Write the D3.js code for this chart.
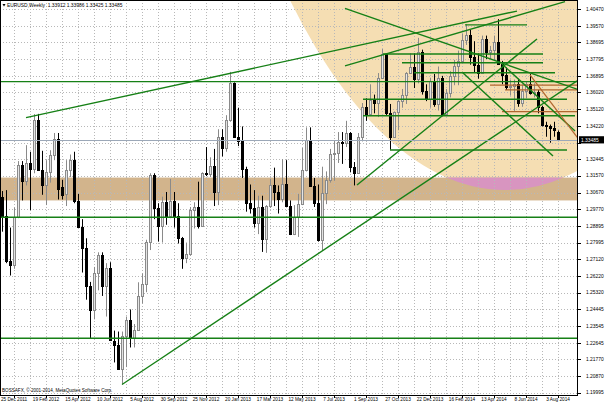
<!DOCTYPE html>
<html><head><meta charset="utf-8">
<script src="https://cdn.jsdelivr.net/npm/d3@7"></script>
<style>
body{margin:0;background:#fff;}
svg{display:block;}
text{font-family:"Liberation Sans",Arial,sans-serif;}
</style>
</head><body>
<svg id="chart" width="605" height="403"></svg>
<script>
// ---------- data ----------
const symbolTitle = "EURUSD,Weekly  1.33912 1.33986 1.33425 1.33485";
const copyright = "BOSSAFX, \u00A9 2001-2014, MetaQuotes Software Corp.";
const timeLabels = ["25 Dec 2011","19 Feb 2012","15 Apr 2012","10 Jun 2012","5 Aug 2012","30 Sep 2012","25 Nov 2012","20 Jan 2013","17 Mar 2013","12 May 2013","7 Jul 2013","1 Sep 2013","27 Oct 2013","22 Dec 2013","16 Feb 2014","13 Apr 2014","8 Jun 2014","3 Aug 2014"];
const priceTicks = [1.40470,1.39570,1.38695,1.37795,1.36895,1.36020,1.35120,1.34220,1.33320,1.32445,1.31570,1.30670,1.29770,1.28895,1.27995,1.27120,1.26220,1.25320,1.24445,1.23545,1.22645,1.21770,1.20870,1.19995];
const barOpen = [1.3045,1.2940,1.2700,1.2680,1.2935,1.3215,1.3130,1.3225,1.3195,1.3455,
1.3190,1.3110,1.3175,1.3265,1.3355,1.3095,1.3060,1.3190,1.3240,1.3020,
1.2885,1.2770,1.2570,1.2440,1.2640,1.2735,1.2570,1.2665,1.2275,1.2255,
1.2125,1.2300,1.2385,1.2290,1.2335,1.2515,1.2580,1.2805,1.3160,1.2985,
1.2890,1.3015,1.2940,1.3020,1.2940,1.2825,1.2715,1.2740,1.2975,1.2990,
1.2890,1.3170,1.3165,1.3210,1.3070,1.3365,1.3305,1.3455,1.3650,1.3365,
1.3340,1.3195,1.3010,1.2985,1.2905,1.2990,1.2820,1.2995,1.3105,1.3070,
1.3030,1.3115,1.2995,1.2845,1.2935,1.3005,1.3190,1.3345,1.3100,1.3010,
1.2815,1.3065,1.3135,1.3275,1.3280,1.3335,1.3330,1.3385,1.3205,1.3170,
1.3365,1.3525,1.3485,1.3560,1.3545,1.3680,1.3805,1.3490,1.3365,1.3495,
1.3555,1.3590,1.3705,1.3740,1.3675,1.3815,1.3610,1.3565,1.3665,1.3540,
1.3680,1.3485,1.3600,1.3690,1.3745,1.3770,1.3880,1.3910,1.3790,1.3750,
1.3705,1.3885,1.3815,1.3830,1.3870,1.3755,1.3695,1.3630,1.3635,1.3645,
1.3545,1.3610,1.3645,1.3600,1.3605,1.3525,1.3430,1.3425,1.3410,1.33912];
const barHigh = [1.3075,1.3080,1.2880,1.2987,1.3235,1.3235,1.3320,1.3285,1.3486,1.3487,
1.3290,1.3240,1.3293,1.3385,1.3385,1.3135,1.3240,1.3270,1.3285,1.3060,
1.2925,1.2823,1.2590,1.2670,1.2748,1.2748,1.2690,1.2695,1.2330,1.2325,
1.2325,1.2405,1.2443,1.2365,1.2588,1.2635,1.2815,1.3170,1.3170,1.3010,
1.3045,1.3070,1.3140,1.3070,1.3010,1.2830,1.2800,1.2990,1.3015,1.3125,
1.3175,1.3310,1.3255,1.3300,1.3405,1.3405,1.3480,1.3711,1.3655,1.3520,
1.3420,1.3205,1.3110,1.3080,1.3050,1.3050,1.3000,1.3140,1.3200,1.3105,
1.3245,1.3240,1.3025,1.3000,1.3060,1.3305,1.3415,1.3415,1.3145,1.3110,
1.3205,1.3180,1.3300,1.3345,1.3390,1.3390,1.3450,1.3390,1.3230,1.3385,
1.3545,1.3570,1.3645,1.3590,1.3705,1.3833,1.3810,1.3540,1.3500,1.3560,
1.3620,1.3710,1.3810,1.3810,1.3893,1.3830,1.3645,1.3680,1.3700,1.3740,
1.3690,1.3620,1.3715,1.3775,1.3825,1.3915,1.3967,1.3935,1.3875,1.3810,
1.3905,1.3905,1.3850,1.3905,1.3993,1.3770,1.3735,1.3670,1.3670,1.3675,
1.3645,1.3660,1.3700,1.3650,1.3615,1.3530,1.3445,1.3430,1.3445,1.33986];
const barLow = [1.2858,1.2690,1.2624,1.2660,1.2930,1.3025,1.3105,1.2973,1.3170,1.3185,
1.3055,1.3000,1.3120,1.3240,1.3030,1.3030,1.2995,1.3150,1.3010,1.2880,
1.2640,1.2495,1.2288,1.2390,1.2545,1.2515,1.2405,1.2275,1.2160,1.2120,
1.2042,1.2135,1.2240,1.2240,1.2330,1.2475,1.2535,1.2760,1.2925,1.2805,
1.2800,1.2895,1.2930,1.2880,1.2795,1.2660,1.2690,1.2730,1.2875,1.2875,
1.2885,1.3155,1.3150,1.2995,1.3000,1.3260,1.3285,1.3445,1.3375,1.3315,
1.3145,1.2965,1.2955,1.2880,1.2845,1.2750,1.2745,1.2985,1.2995,1.2955,
1.3015,1.2995,1.2840,1.2840,1.2830,1.3000,1.3180,1.3105,1.2990,1.2805,
1.2755,1.3005,1.3120,1.3130,1.3225,1.3220,1.3310,1.3175,1.3105,1.3170,
1.3340,1.3450,1.3475,1.3490,1.3470,1.3675,1.3480,1.3296,1.3365,1.3400,
1.3520,1.3540,1.3700,1.3625,1.3650,1.3590,1.3555,1.3520,1.3525,1.3505,
1.3475,1.3475,1.3575,1.3640,1.3640,1.3760,1.3855,1.3750,1.3705,1.3675,
1.3700,1.3780,1.3780,1.3770,1.3835,1.3645,1.3615,1.3585,1.3503,1.3525,
1.3525,1.3570,1.3590,1.3575,1.3490,1.3420,1.3365,1.3333,1.3365,1.33425];
const barClose = [1.2940,1.2700,1.2680,1.2935,1.3215,1.3130,1.3225,1.3195,1.3455,1.3190,
1.3110,1.3175,1.3265,1.3355,1.3085,1.3055,1.3190,1.3240,1.3020,1.2885,
1.2770,1.2570,1.2440,1.2640,1.2735,1.2570,1.2665,1.2280,1.2255,1.2125,
1.2300,1.2385,1.2290,1.2335,1.2515,1.2580,1.2805,1.3160,1.2985,1.2890,
1.3015,1.2940,1.3020,1.2940,1.2825,1.2715,1.2740,1.2975,1.2990,1.2890,
1.3170,1.3165,1.3210,1.3070,1.3365,1.3305,1.3455,1.3650,1.3365,1.3340,
1.3195,1.3010,1.2985,1.2905,1.2990,1.2820,1.2995,1.3105,1.3070,1.3030,
1.3115,1.2995,1.2845,1.2935,1.3005,1.3190,1.3345,1.3100,1.3010,1.2815,
1.3065,1.3135,1.3275,1.3280,1.3335,1.3330,1.3385,1.3205,1.3170,1.3365,
1.3525,1.3485,1.3560,1.3545,1.3680,1.3805,1.3490,1.3365,1.3495,1.3555,
1.3590,1.3705,1.3740,1.3675,1.3815,1.3610,1.3565,1.3665,1.3540,1.3680,
1.3485,1.3600,1.3690,1.3745,1.3770,1.3880,1.3910,1.3790,1.3750,1.3705,
1.3885,1.3815,1.3830,1.3870,1.3755,1.3695,1.3630,1.3635,1.3645,1.3545,
1.3610,1.3645,1.3600,1.3605,1.3525,1.3430,1.3425,1.3410,1.3400,1.33485];
const bidPrice = 1.33485;
// annotation objects, in (bar index, price) coordinates
const zonePrices = [1.3147, 1.3025];
const ellipseCenter = [125.75, 1.7608];
const ellipseRadius = [85.25, 0.4528];
const fullHLines = [1.3659, 1.2935, 1.2289];
const greenHSegments = [[115.75,131.25,1.3962],[95.25,135.25,1.3807],[100,135.25,1.3760],[103,138.25,1.3707],
  [90.25,141.25,1.3565],[90.25,143.25,1.3477],[97,141.25,1.3294]];
const brownHSegments = [[122,146,1.3641],[125.75,146,1.3615],[125,146,1.3499]];
const greenTrendLines = [[6,1.3467,128.75,1.4036],[85.75,1.3743,140.75,1.4086],[85.75,1.4050,143.75,1.3619],
  [30,1.2042,143.75,1.3663],[88.75,1.3107,133.75,1.3887],[115,1.3711,137.75,1.3262],[125,1.3753,143.25,1.3396]];
const brownTrendLines = [[132,1.3695,144.5,1.3342]];

// ---------- layout ----------
const W = 605, H = 403;
const plotR = 577, plotB = 395;
const nBars = barOpen.length;
const x = d3.scaleLinear().domain([0, nBars-1]).range([2, 2 + 4*(nBars-1)]);
const y = d3.scaleLinear().domain([1.19995, 1.40470]).range([392.5, 9]);

const svg = d3.select("#chart");
svg.append("rect").attr("width",W).attr("height",H).attr("fill","#fff");
const defs = svg.append("defs");
defs.append("clipPath").attr("id","plot").append("rect").attr("x",0).attr("y",0).attr("width",plotR).attr("height",plotB);
defs.append("clipPath").attr("id","zone").append("rect").attr("x",0).attr("width",plotR)
  .attr("y",y(zonePrices[0])).attr("height",y(zonePrices[1])-y(zonePrices[0]));

const g = svg.append("g").attr("clip-path","url(#plot)");

// background objects
const ecx = x(ellipseCenter[0]), ecy = y(ellipseCenter[1]);
const erx = x(ellipseRadius[0]) - x(0), ery = y(ellipseCenter[1]-ellipseRadius[1]) - ecy;
g.append("ellipse").attr("cx",ecx).attr("cy",ecy).attr("rx",erx).attr("ry",ery).attr("fill","#F5DEB3");
g.append("rect").attr("x",0).attr("width",plotR).attr("y",y(zonePrices[0])).attr("height",y(zonePrices[1])-y(zonePrices[0])).attr("fill","#D2B48C");
g.append("g").attr("clip-path","url(#zone)").append("ellipse").attr("cx",ecx).attr("cy",ecy).attr("rx",erx).attr("ry",ery).attr("fill","#D895C0");

// grid
const gridG = g.append("g").attr("stroke","#b8b8b8").attr("stroke-dasharray","1,2").attr("stroke-width",1);
priceTicks.forEach(p => {
  const yy = Math.round(y(p)) + 0.5;
  gridG.append("line").attr("x1",0).attr("x2",plotR).attr("y1",yy).attr("y2",yy);
});
d3.range(3, nBars+2, 4).forEach(i => {
  const xx = Math.round(x(i)) + 0.5;
  gridG.append("line").attr("x1",xx).attr("x2",xx).attr("y1",0).attr("y2",plotB);
});

// candles
const bars = d3.range(nBars).map(i => ({i, o:barOpen[i], h:barHigh[i], l:barLow[i], c:barClose[i]}));
const cg = g.append("g");
cg.selectAll("line.wick").data(bars).join("line")
  .attr("x1", d => Math.round(x(d.i)) + 0.5).attr("x2", d => Math.round(x(d.i)) + 0.5)
  .attr("y1", d => y(d.h)).attr("y2", d => y(d.l))
  .attr("stroke", d => d.c >= d.o ? "#8a8a8a" : "#000").attr("stroke-width",1);
cg.selectAll("rect.body").data(bars).join("rect")
  .attr("x", d => Math.round(x(d.i)) - 0.5).attr("width", 2)
  .attr("y", d => Math.round(y(Math.max(d.o,d.c))) + 0.5)
  .attr("height", d => Math.max(0.01, Math.round(y(Math.min(d.o,d.c))) - Math.round(y(Math.max(d.o,d.c)))))
  .attr("fill", d => d.c >= d.o ? "#e4e4e4" : "#000")
  .attr("stroke", d => d.c >= d.o ? "#8a8a8a" : "#000").attr("stroke-width",1);

// lines
const lg = g.append("g").attr("fill","none");
const green = "#168016";
fullHLines.forEach(p => lg.append("line").attr("x1",0).attr("x2",plotR).attr("y1",y(p)).attr("y2",y(p)).attr("stroke",green).attr("stroke-width",1.4));
greenHSegments.forEach(s => lg.append("line").attr("x1",x(s[0])).attr("x2",x(s[1])).attr("y1",y(s[2])).attr("y2",y(s[2])).attr("stroke",green).attr("stroke-width",1.4));
brownHSegments.forEach(s => lg.append("line").attr("x1",x(s[0])).attr("x2",x(s[1])).attr("y1",y(s[2])).attr("y2",y(s[2])).attr("stroke","#B0662E").attr("stroke-width",1.2));
greenTrendLines.forEach(s => lg.append("line").attr("x1",x(s[0])).attr("y1",y(s[1])).attr("x2",x(s[2])).attr("y2",y(s[3])).attr("stroke",green).attr("stroke-width",1.4));
brownTrendLines.forEach(s => lg.append("line").attr("x1",x(s[0])).attr("y1",y(s[1])).attr("x2",x(s[2])).attr("y2",y(s[3])).attr("stroke","#B0662E").attr("stroke-width",1.2));

// bid line
lg.append("line").attr("x1",0).attr("x2",plotR).attr("y1",Math.round(y(bidPrice))+0.5).attr("y2",Math.round(y(bidPrice))+0.5)
  .attr("stroke","#9ca8b8").attr("stroke-width",1);

// frame
svg.append("rect").attr("x",0.5).attr("y",0.5).attr("width",plotR).attr("height",plotB).attr("fill","none").attr("stroke","#000").attr("stroke-width",1);

// right axis labels
const bidY = y(bidPrice);
priceTicks.forEach(p => {
  const yy = Math.round(y(p)) + 0.5;
  svg.append("line").attr("x1",plotR+0.5).attr("x2",plotR+4).attr("y1",yy).attr("y2",yy).attr("stroke","#000");
  if (Math.abs(y(p) - bidY) < 6) return;
  svg.append("text").attr("x",586).attr("y",y(p)+1.7).attr("font-size",4.9).attr("fill","#000").text(p.toFixed(5));
});
svg.append("rect").attr("x",579).attr("y",bidY-3.6).attr("width",25).attr("height",7.2).attr("fill","#000");
svg.append("text").attr("x",581).attr("y",bidY+1.8).attr("font-size",4.9).attr("fill","#fff").text(bidPrice.toFixed(5));

// time labels
timeLabels.forEach((t,k) => {
  const xx = x(3 + 8*k);
  svg.append("line").attr("x1",Math.round(xx)+0.5).attr("x2",Math.round(xx)+0.5).attr("y1",plotB+0.5).attr("y2",plotB+3).attr("stroke","#000");
  svg.append("text").attr("x",xx).attr("y",401).attr("font-size",4.7).attr("text-anchor","middle").attr("fill","#000").text(t);
});

// header and copyright
svg.append("path").attr("d","M2.5,4 L5.5,4 L4,6.5 Z").attr("fill","#000");
svg.append("text").attr("x",7).attr("y",7).attr("font-size",4.9).attr("fill","#000").attr("xml:space","preserve").style("white-space","pre").text(symbolTitle);
svg.append("text").attr("x",2).attr("y",391.5).attr("font-size",4.6).attr("fill","#000").text(copyright);
</script>
</body></html>
